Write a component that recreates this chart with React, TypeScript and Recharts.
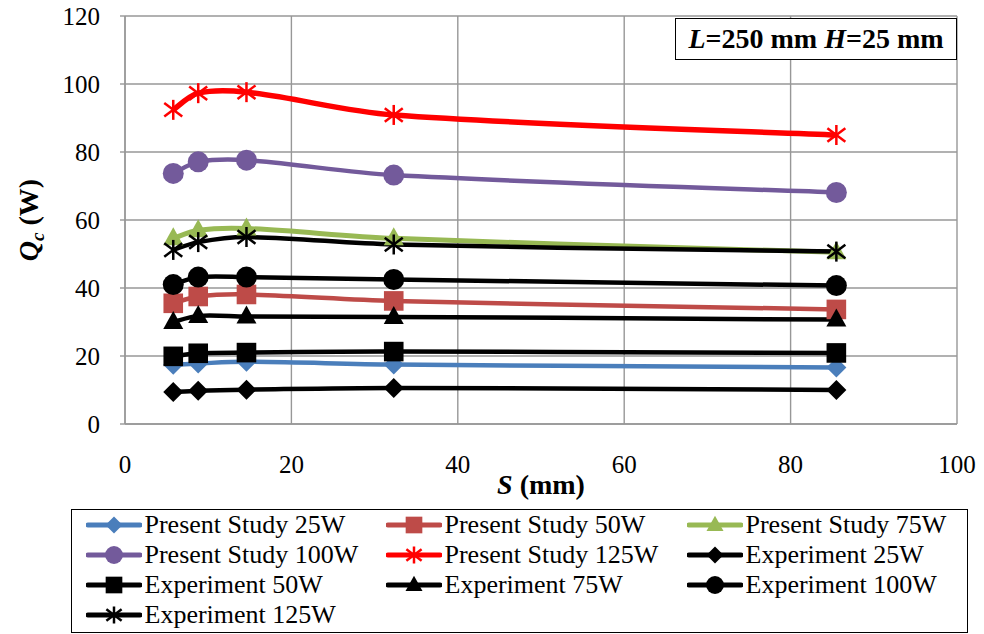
import React from "react";
import { LineChart, Line, XAxis, YAxis, CartesianGrid, Label } from "recharts";

// ---- data ----
const S_MM = [5.8, 8.8, 14.6, 32.3, 85.5];
const PS25 = [17.4, 17.8, 18.3, 17.5, 16.6];
const PS50 = [35.5, 37.5, 38.1, 36.2, 33.7];
const PS75 = [54.6, 57.0, 57.5, 54.6, 50.5];
const PS100 = [73.7, 77.1, 77.6, 73.2, 68.1];
const PS125 = [92.4, 97.3, 97.6, 90.9, 85.0];
const EX25 = [9.4, 9.8, 10.1, 10.6, 10.0];
const EX50 = [19.9, 20.8, 21.0, 21.3, 20.9];
const EX75 = [30.0, 31.8, 31.6, 31.5, 30.7];
const EX100 = [41.0, 43.2, 43.2, 42.5, 40.7];
const EX125 = [51.2, 53.5, 55.0, 52.8, 50.7];

const X_TICKS = [0, 20, 40, 60, 80, 100];
const Y_TICKS = [0, 20, 40, 60, 80, 100, 120];

const SERIES = [
  { key: "ps25", name: "Present Study 25W", values: PS25, color: "#4A7EBB", shape: "diamond", width: 4.5 },
  { key: "ps50", name: "Present Study 50W", values: PS50, color: "#BE4B48", shape: "square", width: 4.5 },
  { key: "ps75", name: "Present Study 75W", values: PS75, color: "#98B954", shape: "triangle", width: 5 },
  { key: "ps100", name: "Present Study 100W", values: PS100, color: "#735A9B", shape: "circle", width: 4.5 },
  { key: "ps125", name: "Present Study 125W", values: PS125, color: "#FF0000", shape: "star", width: 5.5 },
  { key: "ex25", name: "Experiment 25W", values: EX25, color: "#000000", shape: "diamond", width: 4.5 },
  { key: "ex50", name: "Experiment 50W", values: EX50, color: "#000000", shape: "square", width: 4.5 },
  { key: "ex75", name: "Experiment 75W", values: EX75, color: "#000000", shape: "triangle", width: 4.5 },
  { key: "ex100", name: "Experiment 100W", values: EX100, color: "#000000", shape: "circle", width: 4.5 },
  { key: "ex125", name: "Experiment 125W", values: EX125, color: "#000000", shape: "star", width: 4.5 },
];

const DATA = S_MM.map((s, i) => {
  const row: any = { s };
  SERIES.forEach((se) => (row[se.key] = se.values[i]));
  return row;
});

const FONT = "'Liberation Serif', 'Times New Roman', serif";

// Excel-like smoothed curve (Catmull-Rom style with segment weighting)
function excelSmooth(context: any) {
  let pts: number[][] = [];
  return {
    areaStart() {},
    areaEnd() {},
    lineStart() {
      pts = [];
    },
    point(x: number, y: number) {
      pts.push([+x, +y]);
    },
    lineEnd() {
      const n = pts.length;
      if (!n) return;
      context.moveTo(pts[0][0], pts[0][1]);
      if (n === 1) return;
      const d = (a: number[], b: number[]) => Math.hypot(b[0] - a[0], b[1] - a[1]) || 1e-6;
      for (let i = 0; i < n - 1; i++) {
        const p0 = pts[Math.max(i - 1, 0)];
        const p1 = pts[i];
        const p2 = pts[i + 1];
        const p3 = pts[Math.min(i + 2, n - 1)];
        const d01 = i === 0 ? d(p1, p2) : d(p0, p1);
        const d12 = d(p1, p2);
        const d23 = i + 2 > n - 1 ? d(p1, p2) : d(p2, p3);
        const w1 = d12 / (d01 + d12) / 3;
        const w2 = d12 / (d12 + d23) / 3;
        const c1x = p1[0] + (p2[0] - p0[0]) * w1;
        const c1y = p1[1] + (p2[1] - p0[1]) * w1;
        const c2x = p2[0] - (p3[0] - p1[0]) * w2;
        const c2y = p2[1] - (p3[1] - p1[1]) * w2;
        context.bezierCurveTo(c1x, c1y, c2x, c2y, p2[0], p2[1]);
      }
    },
  };
}

function Marker({ cx, cy, shape, color, scale = 1 }: any) {
  if (cx == null || cy == null) return null;
  const s = scale;
  switch (shape) {
    case "diamond": {
      const r = 10 * s;
      return <polygon points={`${cx},${cy - r} ${cx + r},${cy} ${cx},${cy + r} ${cx - r},${cy}`} fill={color} />;
    }
    case "square": {
      const h = 9.8 * s;
      return <rect x={cx - h} y={cy - h} width={2 * h} height={2 * h} fill={color} />;
    }
    case "triangle": {
      const w = 10 * s;
      return <polygon points={`${cx},${cy - 11 * s} ${cx + w},${cy + 7 * s} ${cx - w},${cy + 7 * s}`} fill={color} />;
    }
    case "circle":
      return <circle cx={cx} cy={cy} r={10.5 * s} fill={color} />;
    case "star": {
      const r = 10 * s;
      const k = 9 * s;
      return (
        <g stroke={color} strokeWidth={2.5} fill="none">
          <line x1={cx} y1={cy - r} x2={cx} y2={cy + r} />
          <line x1={cx - k} y1={cy - k * 0.75} x2={cx + k} y2={cy + k * 0.75} />
          <line x1={cx - k} y1={cy + k * 0.75} x2={cx + k} y2={cy - k * 0.75} />
        </g>
      );
    }
    default:
      return null;
  }
}

const YLabel = (props: any) => {
  const vb = props.viewBox || { x: 0, y: 16, width: 125, height: 408 };
  const cy = vb.y + vb.height / 2;
  const x = 38;
  return (
    <text
      x={x}
      y={cy}
      transform={`rotate(-90, ${x}, ${cy})`}
      textAnchor="middle"
      fontFamily={FONT}
      fontWeight="bold"
      fontSize={28}
      fill="#000"
    >
      <tspan fontStyle="italic">Q</tspan>
      <tspan fontStyle="italic" fontSize={19} dy={6}>c</tspan>
      <tspan dy={-6}> (W)</tspan>
    </text>
  );
};

const XLabel = (props: any) => {
  const vb = props.viewBox || { x: 125, y: 424, width: 832, height: 60 };
  const cx = vb.x + vb.width / 2;
  return (
    <text x={cx} y={vb.y + 70} textAnchor="middle" fontFamily={FONT} fontWeight="bold" fontSize={28} fill="#000">
      <tspan fontStyle="italic">S</tspan>
      <tspan> (mm)</tspan>
    </text>
  );
};

const LEGEND_COLS = [15, 315, 616];
const LEGEND_ROW0 = 16;
const LEGEND_ROW_STEP = 30;

function LegendBox() {
  return (
    <div
      style={{
        position: "absolute",
        left: 71,
        top: 509,
        width: 897,
        height: 124,
        border: "1.5px solid #000",
        boxSizing: "border-box",
        background: "#fff",
        fontFamily: FONT,
      }}
    >
      {SERIES.map((se, i) => {
        const col = i % 3;
        const row = Math.floor(i / 3);
        return (
          <div
            key={se.key}
            style={{
              position: "absolute",
              left: LEGEND_COLS[col] - 1.5,
              top: LEGEND_ROW0 + row * LEGEND_ROW_STEP - 15 - 1.5,
              height: 30,
              display: "flex",
              alignItems: "center",
              whiteSpace: "nowrap",
            }}
          >
            <svg width={56} height={30} style={{ display: "block" }}>
              <line x1={2} y1={15} x2={54} y2={15} stroke={se.color} strokeWidth={5} strokeLinecap="round" />
              <Marker cx={28} cy={15} shape={se.shape} color={se.color} scale={0.85} />
            </svg>
            <span style={{ fontSize: 26, lineHeight: "30px", marginLeft: 3, color: "#000" }}>{se.name}</span>
          </div>
        );
      })}
    </div>
  );
}

export default function App() {
  return (
    <div style={{ position: "absolute", left: 0, top: 0, width: 984, height: 634, background: "#fff" }}>
      <LineChart width={984} height={634} data={DATA} margin={{ top: 16, right: 27, left: 0, bottom: 150 }}>
        <CartesianGrid stroke="#979797" strokeWidth={1.4} />
        <XAxis
          type="number"
          dataKey="s"
          domain={[0, 100]}
          ticks={X_TICKS}
          tickLine={false}
          tickSize={0}
          tickMargin={31}
          height={60}
          stroke="#979797"
          strokeWidth={1.4}
          tick={{ fill: "#000", fontSize: 25, fontFamily: FONT }}
          allowDataOverflow
        >
          <Label content={<XLabel />} />
        </XAxis>
        <YAxis
          type="number"
          domain={[0, 120]}
          ticks={Y_TICKS}
          width={125}
          tickSize={5}
          tickMargin={20}
          stroke="#979797"
          strokeWidth={1.4}
          tick={{ fill: "#000", fontSize: 25, fontFamily: FONT }}
          allowDataOverflow
        >
          <Label content={<YLabel />} />
        </YAxis>
        {SERIES.map((se) => (
          <Line
            key={se.key}
            dataKey={se.key}
            name={se.name}
            type={excelSmooth as any}
            stroke={se.color}
            strokeWidth={se.width}
            isAnimationActive={false}
            activeDot={false}
            dot={(p: any) => <Marker key={`${se.key}-${p.index}`} cx={p.cx} cy={p.cy} shape={se.shape} color={se.color} />}
          />
        ))}
      </LineChart>
      <div
        style={{
          position: "absolute",
          left: 675,
          top: 18,
          width: 282,
          height: 42,
          border: "1.5px solid #000",
          boxSizing: "border-box",
          background: "#fff",
          fontFamily: FONT,
          fontWeight: "bold",
          fontSize: 28,
          lineHeight: "39px",
          textAlign: "center",
          whiteSpace: "nowrap",
        }}
      >
        <i>L</i>=250 mm <i>H</i>=25 mm
      </div>
      <LegendBox />
    </div>
  );
}
